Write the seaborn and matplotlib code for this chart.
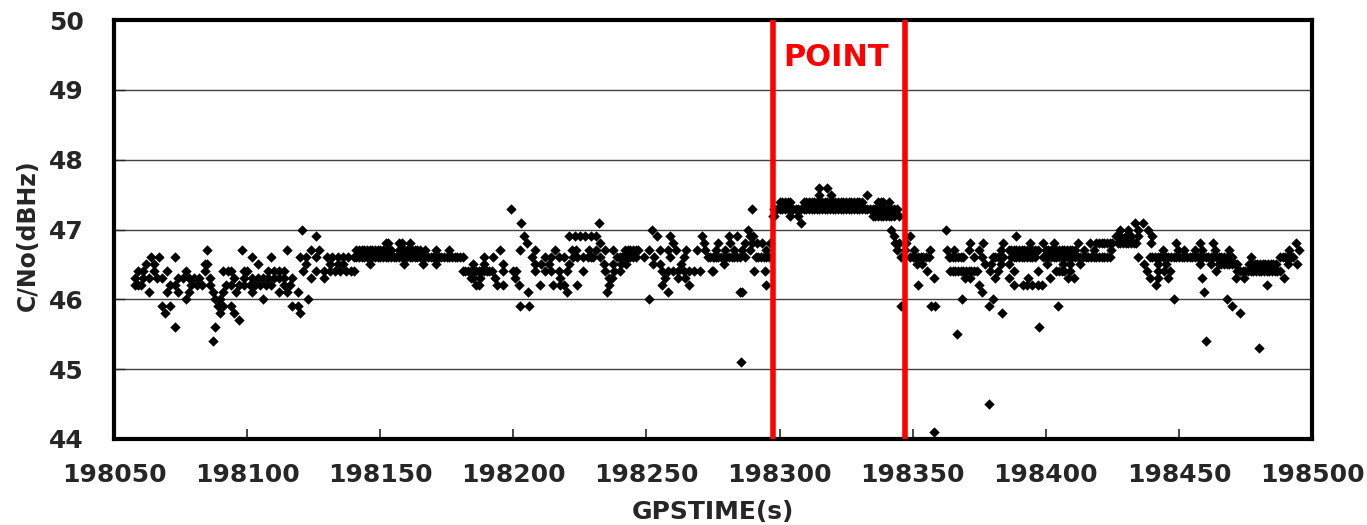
import matplotlib
matplotlib.use("Agg")
import matplotlib.pyplot as plt
import pandas as pd
import seaborn as sns

# GPS time offsets (s, relative to 198000) and C/No values (dBHz)
T0 = 198000

seg_a = [(85, 46.7),
         (64, 46.6), (67, 46.6), (73, 46.6),
         (62, 46.5), (65, 46.5), (84, 46.5), (85, 46.5),
         (59, 46.4), (61, 46.4), (65, 46.4), (70, 46.4), (77, 46.4), (84, 46.4), (91, 46.4), (93, 46.4),
         (58, 46.3), (61, 46.3), (63, 46.3), (66, 46.3), (68, 46.3), (74, 46.3), (76, 46.3), (78, 46.3),
         (80, 46.3), (82, 46.3), (86, 46.3),
         (58, 46.2), (59, 46.2), (60, 46.2), (71, 46.2), (73, 46.2), (79, 46.2), (81, 46.2), (83, 46.2),
         (86, 46.2), (92, 46.2),
         (63, 46.1), (70, 46.1), (74, 46.1), (78, 46.1), (87, 46.1), (91, 46.1),
         (77, 46.0), (88, 46.0), (90, 46.0),
         (68, 45.9), (71, 45.9), (89, 45.9), (91, 45.9),
         (69, 45.8), (90, 45.8),
         (73, 45.6), (88, 45.6),
         (87, 45.4)]

seg_b = [(120.5, 47.0), (126, 46.9),
         (98, 46.7), (115, 46.7), (124, 46.7), (127, 46.7),
         (102, 46.6), (109, 46.6), (120, 46.6), (122, 46.6), (126, 46.6), (130, 46.6), (132, 46.6),
         (134, 46.6), (136, 46.6), (138, 46.6), (140, 46.6),
         (104, 46.5), (122, 46.5), (131, 46.5), (134, 46.5), (136, 46.5),
         (94, 46.4), (99, 46.4), (100, 46.4), (108, 46.4), (110, 46.4), (112, 46.4), (114, 46.4),
         (121, 46.4), (126, 46.4), (129, 46.4), (131, 46.4), (133, 46.4), (135, 46.4), (137, 46.4), (139, 46.4),
         (95, 46.3), (99, 46.3), (102, 46.3), (104, 46.3), (106, 46.3), (108, 46.3), (110, 46.3),
         (112, 46.3), (114, 46.3), (117, 46.3), (124, 46.3), (129, 46.3),
         (94, 46.2), (97, 46.2), (99, 46.2), (101, 46.2), (103, 46.2), (105, 46.2), (107, 46.2),
         (109, 46.2), (114, 46.2), (116, 46.2),
         (96, 46.1), (102, 46.1), (112, 46.1), (115, 46.1), (119, 46.1),
         (106, 46.0), (123, 46.0),
         (94, 45.9), (117, 45.9), (119, 45.9),
         (95, 45.8), (120, 45.8),
         (97, 45.7)]

seg_c = [(152, 46.8), (153, 46.8), (157, 46.8), (158, 46.8), (161, 46.8),
         (141, 46.7), (142, 46.7), (143, 46.7), (144, 46.7), (145, 46.7), (146, 46.7), (147, 46.7),
         (148, 46.7), (149, 46.7), (150, 46.7), (151, 46.7), (152, 46.7), (153, 46.7), (154, 46.7),
         (157, 46.7), (158, 46.7), (159, 46.7), (160, 46.7), (161, 46.7), (162, 46.7), (163, 46.7),
         (164, 46.7), (165, 46.7), (167, 46.7), (171, 46.7), (176, 46.7),
         (141, 46.6), (142, 46.6), (143, 46.6), (144, 46.6), (145, 46.6), (146, 46.6), (147, 46.6),
         (148, 46.6), (149, 46.6), (150, 46.6), (151, 46.6), (152, 46.6), (153, 46.6), (154, 46.6),
         (155, 46.6), (156, 46.6), (157, 46.6), (158, 46.6), (159, 46.6), (160, 46.6), (161, 46.6),
         (162, 46.6), (163, 46.6), (164, 46.6), (165, 46.6), (166, 46.6), (167, 46.6), (168, 46.6),
         (169, 46.6), (170, 46.6), (171, 46.6), (172, 46.6), (173, 46.6), (174, 46.6), (175, 46.6),
         (176, 46.6), (177, 46.6), (178, 46.6), (179, 46.6), (180, 46.6), (181, 46.6),
         (146, 46.5), (159, 46.5), (166, 46.5), (171, 46.5),
         (140, 46.4), (181, 46.4), (182, 46.4), (183, 46.4),
         (184, 46.3), (186, 46.2)]

seg_d = [(199, 47.3), (203, 47.1),
         (204, 46.9), (221, 46.9), (223, 46.9), (225, 46.9), (227, 46.9), (229, 46.9), (231, 46.9),
         (205, 46.8),
         (195, 46.7), (202.5, 46.7), (208, 46.7), (215.5, 46.7), (222, 46.7), (223.5, 46.7), (228.5, 46.7),
         (189, 46.6), (192.5, 46.6), (207, 46.6), (212, 46.6), (214, 46.6), (217, 46.6), (219, 46.6),
         (222.5, 46.6), (224, 46.6), (226, 46.6), (228, 46.6), (230, 46.6),
         (185, 46.5), (189, 46.5), (196, 46.5), (208, 46.5), (210.5, 46.5), (213.5, 46.5), (221, 46.5),
         (184, 46.4), (185, 46.4), (186, 46.4), (187, 46.4), (188, 46.4), (189, 46.4), (190, 46.4),
         (191, 46.4), (192, 46.4), (196, 46.4), (200, 46.4), (201, 46.4), (208, 46.4), (212, 46.4),
         (214, 46.4), (217, 46.4), (220, 46.4), (226, 46.4),
         (185, 46.3), (187.5, 46.3), (193, 46.3), (200.5, 46.3), (217.5, 46.3),
         (187, 46.2), (194, 46.2), (196, 46.2), (202, 46.2), (210, 46.2), (215, 46.2), (217.5, 46.2),
         (219, 46.2), (224, 46.2),
         (205.5, 46.1), (220, 46.1),
         (202.5, 45.9), (206, 45.9)]

seg_e = [(232, 47.1), (252, 47.0),
         (254, 46.9), (259, 46.9), (271, 46.9),
         (232.5, 46.8), (260, 46.8), (271.5, 46.8),
         (231, 46.7), (234.5, 46.7), (237.5, 46.7), (242, 46.7), (243, 46.7), (244, 46.7), (245, 46.7),
         (246, 46.7), (247, 46.7), (251, 46.7), (255, 46.7), (258, 46.7), (261, 46.7), (265, 46.7),
         (269, 46.7), (272, 46.7),
         (229, 46.6), (232.5, 46.6), (239, 46.6), (240, 46.6), (241, 46.6), (242, 46.6), (243, 46.6),
         (244, 46.6), (245, 46.6), (246, 46.6), (249, 46.6), (253, 46.6), (259, 46.6), (264, 46.6),
         (273, 46.6), (275.5, 46.6),
         (234, 46.5), (237.5, 46.5), (240.5, 46.5), (242.5, 46.5), (252.5, 46.5), (255, 46.5), (263, 46.5),
         (234.5, 46.4), (238, 46.4), (240, 46.4), (256, 46.4), (258, 46.4), (260, 46.4), (262, 46.4),
         (264, 46.4), (266, 46.4), (268, 46.4), (270, 46.4), (274.5, 46.4),
         (236, 46.3), (237, 46.3), (257, 46.3), (262, 46.3), (264.5, 46.3),
         (236, 46.2), (256, 46.2), (266, 46.2),
         (235, 46.1), (258, 46.1),
         (251, 46.0)]

seg_f = [(289.5, 47.3), (288, 47.0),
         (281, 46.9), (284, 46.9), (289, 46.9), (290, 46.9),
         (277, 46.8), (281.5, 46.8), (287, 46.8), (289.5, 46.8), (291.5, 46.8), (293.5, 46.8), (296.5, 46.8),
         (276, 46.7), (279.5, 46.7), (283, 46.7), (286, 46.7), (289, 46.7), (295, 46.7),
         (274, 46.6), (275, 46.6), (276, 46.6), (277, 46.6), (278, 46.6), (279, 46.6), (280, 46.6),
         (281, 46.6), (282, 46.6), (283, 46.6), (284, 46.6), (285, 46.6), (287, 46.6), (291, 46.6),
         (292, 46.6), (293, 46.6), (294, 46.6), (295, 46.6), (296, 46.6),
         (279, 46.5),
         (275, 46.4), (290.5, 46.4), (294.5, 46.4),
         (295, 46.2),
         (285, 46.1), (286, 46.1),
         (285.5, 45.1)]

seg_g = [(297.5, 47.2), (298, 47.2),
         (298, 47.3), (299, 47.3), (300, 47.3), (301, 47.3), (302, 47.3), (303, 47.3), (304, 47.3),
         (305, 47.3), (306, 47.3), (307, 47.3), (308, 47.3), (309, 47.3), (310, 47.3), (311, 47.3),
         (312, 47.3), (313, 47.3), (314, 47.3), (315, 47.3), (316, 47.3), (317, 47.3), (318, 47.3),
         (319, 47.3), (320, 47.3), (321, 47.3), (322, 47.3), (323, 47.3), (324, 47.3), (325, 47.3),
         (326, 47.3), (327, 47.3), (328, 47.3), (329, 47.3), (330, 47.3), (331, 47.3), (332, 47.3),
         (333, 47.3), (334, 47.3), (335, 47.3), (336, 47.3), (337, 47.3), (338, 47.3), (339, 47.3),
         (340, 47.3), (341, 47.3), (342, 47.3), (343, 47.3), (344, 47.3),
         (300, 47.4), (301, 47.4), (302, 47.4), (303, 47.4), (304, 47.4),
         (309, 47.4), (310, 47.4), (311, 47.4), (312, 47.4), (313, 47.4), (314, 47.4), (315, 47.4),
         (316, 47.4), (317, 47.4), (318, 47.4), (319, 47.4), (320, 47.4), (321, 47.4), (322, 47.4),
         (323, 47.4), (324, 47.4), (325, 47.4), (326, 47.4), (327, 47.4), (328, 47.4), (329, 47.4),
         (330, 47.4), (331, 47.4), (337, 47.4), (338, 47.4), (339, 47.4), (341, 47.4),
         (315, 47.5), (319.5, 47.5), (333, 47.5),
         (315, 47.6), (318, 47.6),
         (304, 47.2), (307, 47.2), (335, 47.2), (336, 47.2), (337, 47.2), (338, 47.2), (339, 47.2),
         (340, 47.2), (341, 47.2), (342, 47.2), (343, 47.2), (345, 47.2),
         (308, 47.1), (342, 47.0), (343, 46.9), (343.5, 46.8), (345, 46.8), (344, 46.7), (347, 46.7),
         (345.5, 46.6), (345.5, 45.9)]

seg_h = [(349, 46.9), (362.5, 47.0),
         (347.5, 46.8),
         (350.5, 46.7), (356.5, 46.7), (363, 46.7), (365.5, 46.7),
         (349, 46.6), (350, 46.6), (351, 46.6), (352, 46.6), (353, 46.6), (354, 46.6), (355, 46.6),
         (356, 46.6), (363.5, 46.6), (366, 46.6),
         (351.5, 46.5), (353.5, 46.5),
         (355.5, 46.4), (364, 46.4),
         (358, 46.3), (352, 46.2),
         (357, 45.9), (358.5, 45.9),
         (358, 44.1)]

seg_i = [(389, 46.9),
         (371.5, 46.8), (376.5, 46.8), (384, 46.8), (394, 46.8), (399, 46.8), (403, 46.8),
         (371, 46.7), (375, 46.7), (383, 46.7), (386, 46.7), (387, 46.7), (388, 46.7), (389, 46.7),
         (390, 46.7), (391, 46.7), (392, 46.7), (393, 46.7), (394, 46.7), (395, 46.7), (396, 46.7),
         (397, 46.7), (400, 46.7), (401, 46.7), (402, 46.7), (403, 46.7), (404, 46.7), (405, 46.7),
         (406, 46.7), (407, 46.7), (408, 46.7), (409, 46.7), (410, 46.7),
         (364, 46.6), (365, 46.6), (367, 46.6), (368, 46.6), (369, 46.6), (373, 46.6), (376, 46.6),
         (380, 46.6), (381, 46.6), (382, 46.6), (383, 46.6), (384, 46.6), (387, 46.6), (388, 46.6),
         (389, 46.6), (390, 46.6), (391, 46.6), (392, 46.6), (393, 46.6), (394, 46.6), (395, 46.6),
         (396, 46.6), (399, 46.6), (400, 46.6), (401, 46.6), (402, 46.6), (403, 46.6), (404, 46.6),
         (405, 46.6), (406, 46.6), (407, 46.6), (408, 46.6), (409, 46.6), (410, 46.6),
         (377, 46.5), (379.5, 46.5), (383, 46.5), (386, 46.5), (400.5, 46.5), (406.5, 46.5), (409, 46.5),
         (365, 46.4), (366, 46.4), (367, 46.4), (368, 46.4), (369, 46.4), (370, 46.4), (371, 46.4),
         (372, 46.4), (373, 46.4), (374, 46.4), (379, 46.4), (382, 46.4), (388, 46.4), (397, 46.4),
         (404, 46.4), (405, 46.4), (406, 46.4), (407, 46.4),
         (369.5, 46.3), (371.5, 46.3), (381, 46.3), (386, 46.3), (393.5, 46.3), (401.5, 46.3), (408.5, 46.3),
         (410.5, 46.3),
         (375, 46.2), (388, 46.2), (391.5, 46.2), (393, 46.2), (395, 46.2), (397, 46.2), (398.5, 46.2),
         (376, 46.1),
         (368.5, 46.0), (380, 46.0),
         (378.5, 45.9), (404.5, 45.9),
         (383.5, 45.8), (397.5, 45.6), (366.5, 45.5),
         (378.7, 44.5)]

seg_j = [(433.5, 47.1), (436.5, 47.1),
         (428, 47.0), (431, 47.0), (434.5, 47.0), (438.5, 47.0),
         (426.5, 46.9), (428, 46.9), (430, 46.9), (432, 46.9), (434.5, 46.9), (440, 46.9),
         (412, 46.8), (416.5, 46.8), (419, 46.8), (420, 46.8), (421, 46.8), (422, 46.8), (423, 46.8),
         (424, 46.8), (425, 46.8), (427, 46.8), (428, 46.8), (429, 46.8), (430, 46.8), (431, 46.8),
         (432, 46.8), (433, 46.8), (434, 46.8), (439.5, 46.8), (449, 46.8),
         (411, 46.7), (414.5, 46.7), (418, 46.7), (424.5, 46.7), (444, 46.7), (449.5, 46.7), (452, 46.7),
         (411, 46.6), (412, 46.6), (413, 46.6), (414, 46.6), (415, 46.6), (416, 46.6), (417, 46.6),
         (418, 46.6), (419, 46.6), (420, 46.6), (421, 46.6), (422, 46.6), (423, 46.6), (424, 46.6),
         (434.5, 46.6),
         (439, 46.6), (440, 46.6), (441, 46.6), (442, 46.6), (443, 46.6), (444, 46.6), (445, 46.6),
         (446, 46.6), (447, 46.6), (448, 46.6), (449, 46.6), (450, 46.6), (451, 46.6), (452, 46.6),
         (453, 46.6), (454, 46.6), (455, 46.6), (456, 46.6),
         (413, 46.5), (437, 46.5), (442, 46.5), (445, 46.5),
         (409, 46.4), (438, 46.4), (442, 46.4), (444.5, 46.4), (446.5, 46.4),
         (439, 46.3), (442, 46.3), (446, 46.3),
         (441.5, 46.2),
         (448, 46.0)]

seg_k = [(458, 46.8), (463, 46.8), (494, 46.8),
         (456, 46.7), (458.5, 46.7), (463.5, 46.7), (469, 46.7), (491.5, 46.7), (495, 46.7),
         (457, 46.6), (458, 46.6), (459, 46.6), (460, 46.6), (461, 46.6), (462, 46.6), (463, 46.6),
         (464, 46.6), (465, 46.6), (466, 46.6), (467, 46.6), (468, 46.6), (469, 46.6), (470, 46.6),
         (477, 46.6), (488, 46.6), (489, 46.6), (490, 46.6), (491, 46.6), (492, 46.6), (493, 46.6),
         (458, 46.5), (462, 46.5), (465, 46.5), (466, 46.5), (467, 46.5), (468, 46.5), (469, 46.5),
         (470, 46.5), (471, 46.5), (472, 46.5), (476.5, 46.5), (477.5, 46.5), (478.5, 46.5),
         (479.5, 46.5), (480.5, 46.5), (481.5, 46.5), (482.5, 46.5), (483.5, 46.5), (484.5, 46.5),
         (485.5, 46.5), (486.5, 46.5), (491, 46.5), (494.5, 46.5),
         (464, 46.4), (472, 46.4), (473, 46.4), (474, 46.4), (475, 46.4), (476, 46.4), (477, 46.4),
         (478, 46.4), (479, 46.4), (480, 46.4), (481, 46.4), (482, 46.4), (483, 46.4), (484, 46.4),
         (485, 46.4), (486, 46.4), (487, 46.4), (488, 46.4),
         (458.5, 46.3), (471.5, 46.3), (474.5, 46.3), (489.5, 46.3),
         (483, 46.2), (459.5, 46.1), (468, 46.0), (470, 45.9), (473, 45.8),
         (460, 45.4), (480, 45.3)]

point_start = 198297.5
point_end = 198347.0
x_ticks = [198050, 198100, 198150, 198200, 198250, 198300, 198350, 198400, 198450, 198500]
y_ticks = [44, 45, 46, 47, 48, 49, 50]
grid_levels = [45, 46, 47, 48, 49]

segments = [seg_a, seg_b, seg_c, seg_d, seg_e, seg_f, seg_g, seg_h, seg_i, seg_j, seg_k]
df = pd.DataFrame({
    "GPSTIME": [T0 + t for seg in segments for t, v in seg],
    "CN0": [v for seg in segments for t, v in seg],
})

sns.set_style("white")
plt.rcParams["font.family"] = ["DejaVu Sans"]

fig = plt.figure(figsize=(13.67, 5.25), dpi=100)
W, H = 1367, 525
ax = fig.add_axes([114 / W, 1 - 439 / H, (1312 - 114) / W, (439 - 20) / H])

for yv in grid_levels:
    ax.axhline(yv, color="#404040", lw=1.0, zorder=0)

sns.scatterplot(data=df, x="GPSTIME", y="CN0", marker="D", s=28, color="black",
                linewidth=0, ax=ax, legend=False, zorder=3)

ax.axvline(point_start, color="#ff0000", lw=4, zorder=4)
ax.axvline(point_end, color="#ff0000", lw=4, zorder=4)
ax.text((point_start + point_end) / 2 - 1, 49.47, "POINT", color="#ff0000", fontsize=22,
        fontweight="bold", ha="center", va="center", zorder=5)

ax.set_xlim(198050, 198500)
ax.set_ylim(44, 50)
ax.set_xticks(x_ticks)
ax.set_yticks(y_ticks)
ax.set_xticklabels([str(t) for t in x_ticks])
ax.set_yticklabels([str(t) for t in y_ticks])

for sp in ax.spines.values():
    sp.set_visible(True)
    sp.set_linewidth(3)
    sp.set_color("black")

ax.tick_params(axis="x", direction="in", length=7, width=1.2, pad=17, labelsize=18,
               bottom=True, top=False)
ax.tick_params(axis="y", direction="in", length=8, width=1.0, pad=22, labelsize=18,
               left=True, right=False)
for lab in ax.get_xticklabels() + ax.get_yticklabels():
    lab.set_fontweight("bold")

ax.set_xlabel("GPSTIME(s)", fontsize=18, fontweight="bold")
ax.set_ylabel("C/No(dBHz)", fontsize=17, fontweight="bold")
ax.xaxis.set_label_coords(0.5, -0.145)
ax.yaxis.set_label_coords(-0.062, 0.487)

fig.savefig("out.png", dpi=100)
